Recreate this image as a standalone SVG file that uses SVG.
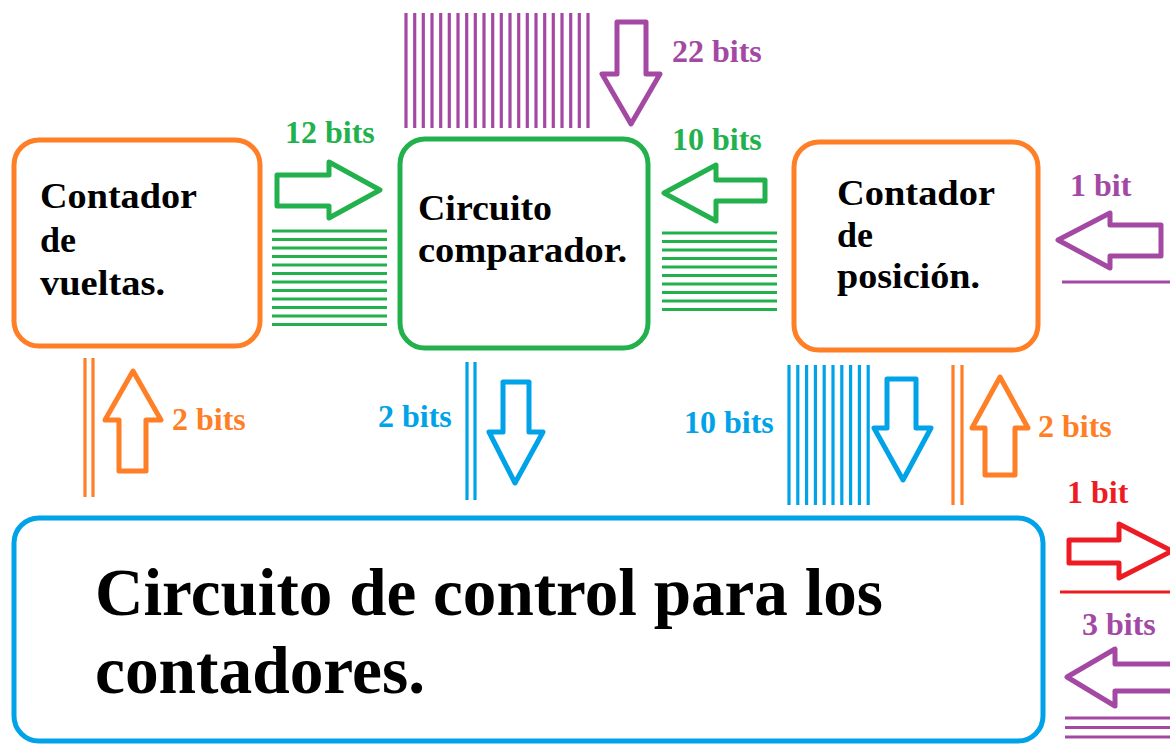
<svg xmlns="http://www.w3.org/2000/svg" width="1170" height="744" viewBox="0 0 1170 744">
<style>
text{font-family:"Liberation Serif","Times New Roman",serif;font-weight:bold}
.lbl{font-size:32px}
.box{font-size:36px;fill:#000}
.big{font-size:68px;fill:#000}
.node{fill:#fff;stroke-width:5}
.arr{fill:#fff;stroke-width:5;stroke-linejoin:round}
.or{stroke:#FF7F27}.gr{stroke:#22B14C}.pu{stroke:#A349A4}.bl{stroke:#00A2E8}.rd{stroke:#ED1C24}
.bus{stroke-width:3.2;fill:none}
</style>
<rect width="1170" height="744" fill="#fff"/>
<g id="contador-vueltas">
<rect class="node or" x="14" y="140" width="246" height="206" rx="25"/>
<text class="box" x="40" y="208" textLength="157" lengthAdjust="spacingAndGlyphs">Contador</text>
<text class="box" x="40" y="252">de</text>
<text class="box" x="40" y="295" textLength="125" lengthAdjust="spacingAndGlyphs">vueltas.</text>
</g>
<g id="circuito-comparador">
<rect class="node gr" x="400" y="139" width="248" height="209" rx="25"/>
<text class="box" x="418" y="220" textLength="134" lengthAdjust="spacingAndGlyphs">Circuito</text>
<text class="box" x="418" y="262" textLength="209" lengthAdjust="spacingAndGlyphs">comparador.</text>
</g>
<g id="contador-posicion">
<rect class="node or" x="794" y="142" width="244" height="208" rx="25"/>
<text class="box" x="837" y="205" textLength="158" lengthAdjust="spacingAndGlyphs">Contador</text>
<text class="box" x="837" y="247">de</text>
<text class="box" x="837" y="288" textLength="143" lengthAdjust="spacingAndGlyphs">posición.</text>
</g>
<g id="circuito-control">
<rect class="node bl" x="14" y="518" width="1029" height="223" rx="25"/>
<text class="big" x="95" y="615" textLength="788" lengthAdjust="spacingAndGlyphs">Circuito de control para los</text>
<text class="big" x="95" y="693" textLength="330" lengthAdjust="spacingAndGlyphs">contadores.</text>
</g>
<g id="connectors">
<g class="bus pu">
<line x1="406" y1="13" x2="406" y2="128"/><line x1="414.7" y1="13" x2="414.7" y2="128"/><line x1="423.3" y1="13" x2="423.3" y2="128"/><line x1="432" y1="13" x2="432" y2="128"/><line x1="440.7" y1="13" x2="440.7" y2="128"/><line x1="449.3" y1="13" x2="449.3" y2="128"/><line x1="458" y1="13" x2="458" y2="128"/><line x1="466.7" y1="13" x2="466.7" y2="128"/><line x1="475.3" y1="13" x2="475.3" y2="128"/><line x1="484" y1="13" x2="484" y2="128"/><line x1="492.7" y1="13" x2="492.7" y2="128"/><line x1="501.3" y1="13" x2="501.3" y2="128"/><line x1="510" y1="13" x2="510" y2="128"/><line x1="518.7" y1="13" x2="518.7" y2="128"/><line x1="527.3" y1="13" x2="527.3" y2="128"/><line x1="536" y1="13" x2="536" y2="128"/><line x1="544.7" y1="13" x2="544.7" y2="128"/><line x1="553.3" y1="13" x2="553.3" y2="128"/><line x1="562" y1="13" x2="562" y2="128"/><line x1="570.7" y1="13" x2="570.7" y2="128"/><line x1="579.3" y1="13" x2="579.3" y2="128"/><line x1="588" y1="13" x2="588" y2="128"/>
</g>
<polygon class="arr pu" points="617,22 646,22 646,74 660,74 631,124 602,74 617,74"/>
<text class="lbl" x="672" y="62" fill="#A349A4">22 bits</text>
<g class="bus gr">
<line x1="272" y1="231" x2="387" y2="231"/><line x1="272" y1="239.5" x2="387" y2="239.5"/><line x1="272" y1="248" x2="387" y2="248"/><line x1="272" y1="256.5" x2="387" y2="256.5"/><line x1="272" y1="265" x2="387" y2="265"/><line x1="272" y1="273.5" x2="387" y2="273.5"/><line x1="272" y1="282" x2="387" y2="282"/><line x1="272" y1="290.5" x2="387" y2="290.5"/><line x1="272" y1="299" x2="387" y2="299"/><line x1="272" y1="307.5" x2="387" y2="307.5"/><line x1="272" y1="316" x2="387" y2="316"/><line x1="272" y1="324.5" x2="387" y2="324.5"/>
</g>
<polygon class="arr gr" points="277,175 329,175 329,162 380,190 329,218 329,206 277,206"/>
<text class="lbl" x="285" y="143" fill="#22B14C">12 bits</text>
<g class="bus gr">
<line x1="662" y1="233" x2="777" y2="233"/><line x1="662" y1="241.5" x2="777" y2="241.5"/><line x1="662" y1="250" x2="777" y2="250"/><line x1="662" y1="258.5" x2="777" y2="258.5"/><line x1="662" y1="267" x2="777" y2="267"/><line x1="662" y1="275.5" x2="777" y2="275.5"/><line x1="662" y1="284" x2="777" y2="284"/><line x1="662" y1="292.5" x2="777" y2="292.5"/><line x1="662" y1="301" x2="777" y2="301"/><line x1="662" y1="309.5" x2="777" y2="309.5"/>
</g>
<polygon class="arr gr" points="664,193 716,165 716,180 765,180 765,201 716,201 716,221"/>
<text class="lbl" x="672" y="150" fill="#22B14C">10 bits</text>
<line class="bus pu" x1="1062" y1="282" x2="1172" y2="282"/>
<polygon class="arr pu" points="1058,240 1110,213 1110,225 1161,225 1161,256 1110,256 1110,268"/>
<text class="lbl" x="1070" y="196" fill="#A349A4">1 bit</text>
<g class="bus or"><line x1="85" y1="358" x2="85" y2="497"/><line x1="93" y1="358" x2="93" y2="497"/></g>
<polygon class="arr or" points="133,371 161,420 146,420 146,471 119,471 119,420 105,420"/>
<text class="lbl" x="172" y="430" fill="#FF7F27">2 bits</text>
<g class="bus bl"><line x1="467" y1="362" x2="467" y2="500"/><line x1="475" y1="362" x2="475" y2="500"/></g>
<polygon class="arr bl" points="503,382 529,382 529,432 543,432 515,483 489,432 503,432"/>
<text class="lbl" x="378" y="427" fill="#00A2E8">2 bits</text>
<g class="bus bl">
<line x1="789" y1="365" x2="789" y2="505"/><line x1="797.8" y1="365" x2="797.8" y2="505"/><line x1="806.6" y1="365" x2="806.6" y2="505"/><line x1="815.4" y1="365" x2="815.4" y2="505"/><line x1="824.2" y1="365" x2="824.2" y2="505"/><line x1="833" y1="365" x2="833" y2="505"/><line x1="841.8" y1="365" x2="841.8" y2="505"/><line x1="850.6" y1="365" x2="850.6" y2="505"/><line x1="859.4" y1="365" x2="859.4" y2="505"/><line x1="868.2" y1="365" x2="868.2" y2="505"/>
</g>
<polygon class="arr bl" points="887,379 916,379 916,428 931,428 903,480 874,428 887,428"/>
<text class="lbl" x="684" y="433" fill="#00A2E8">10 bits</text>
<g class="bus or"><line x1="953" y1="365" x2="953" y2="505"/><line x1="962" y1="365" x2="962" y2="505"/></g>
<polygon class="arr or" points="1000,377 1028,428 1015,428 1015,475 985,475 985,428 972,428"/>
<text class="lbl" x="1038" y="437" fill="#FF7F27">2 bits</text>
<line class="bus rd" x1="1060" y1="592" x2="1172" y2="592"/>
<polygon class="arr rd" points="1069,540 1119,540 1119,524 1172,551 1119,578 1119,563 1069,563"/>
<text class="lbl" x="1067" y="503" fill="#ED1C24">1 bit</text>
<g class="bus pu"><line x1="1065" y1="718" x2="1172" y2="718"/><line x1="1065" y1="727.5" x2="1172" y2="727.5"/><line x1="1065" y1="737" x2="1172" y2="737"/></g>
<polygon class="arr pu" points="1067,677 1115,649 1115,664 1176,664 1176,691 1115,691 1115,706"/>
<text class="lbl" x="1082" y="635" fill="#A349A4">3 bits</text>
</g>
</svg>
